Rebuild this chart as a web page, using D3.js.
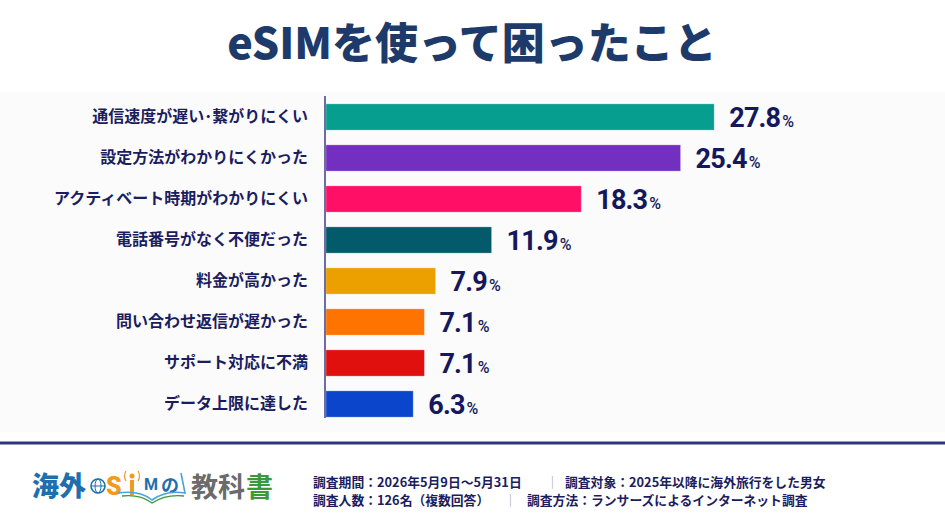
<!DOCTYPE html>
<html>
<head>
<meta charset="utf-8">
<script src="https://cdn.jsdelivr.net/npm/d3@7"></script>
<style>
  body { margin: 0; background: #fff; }
  svg { display: block; }
  .lbl text { font-family: "Noto Sans CJK JP", sans-serif; font-weight: 700; font-size: 16px; fill: #1b1d5e; }
  .val { font-family: Roboto, "Noto Sans", sans-serif; font-weight: 700; fill: #15185a; }
  .foot { font-family: "Noto Sans CJK JP", sans-serif; font-weight: 700; font-size: 12.8px; fill: #1b1d5e; }
</style>
</head>
<body>
<svg id="viz" width="945" height="532"></svg>
<script>
// data
var categories = ["通信速度が遅い･繋がりにくい", "設定方法がわかりにくかった", "アクティベート時期がわかりにくい",
  "電話番号がなく不便だった", "料金が高かった", "問い合わせ返信が遅かった", "サポート対応に不満", "データ上限に達した"];
var values = [27.8, 25.4, 18.3, 11.9, 7.9, 7.1, 7.1, 6.3];
var barColors = ["#069e8e", "#7330c0", "#ff0f65", "#035a6b", "#eba000", "#ff7300", "#e0100f", "#0a45cc"];
var title = "eSIMを使って困ったこと";
var footLines = [
  ["調査期間：2026年5月9日～5月31日", "調査対象：2025年以降に海外旅行をした男女"],
  ["調査人数：126名（複数回答）", "調査方法：ランサーズによるインターネット調査"]
];

var width = 945, height = 532;
var svg = d3.select("#viz");

// BACKGROUND BAND
svg.append("rect")
    .attr("x", 0).attr("y", 92)
    .attr("width", width).attr("height", 340)
    .style("fill", "#fbfbfc");

// TITLE
svg.append("text")
    .attr("x", 472).attr("y", 59)
    .attr("text-anchor", "middle")
    .style("font-family", "'Noto Sans CJK JP', sans-serif")
    .style("font-weight", 900)
    .style("font-size", "43px")
    .style("fill", "#1d3a6b")
    .text(title);

// SCALES
var x0 = 325;
var x = d3.scaleLinear()
    .domain([0, 10])
    .range([x0, x0 + 140]);
var y = d3.scaleBand()
    .domain(categories)
    .range([96.5, 424.5])
    .paddingInner(0.36)
    .paddingOuter(0.18);

// BARS
var data = categories.map(function(c, i) { return {cat: c, val: values[i], color: barColors[i]}; });
svg.append("g")
    .selectAll("rect")
    .data(data)
  .enter().append("rect")
    .attr("x", x0 + 1)
    .attr("y", d => y(d.cat))
    .attr("width", d => x(d.val) - x0 - 1)
    .attr("height", y.bandwidth())
    .style("fill", d => d.color)
    .style("stroke", "#ffffff")
    .style("stroke-opacity", 0.35)
    .style("stroke-width", 0.8);

// CATEGORY LABELS
var axis = svg.append("g")
    .attr("class", "lbl")
    .attr("transform", "translate(" + x0 + ",0)")
    .call(d3.axisLeft(y).tickSize(0).tickPadding(17));
axis.select(".domain").remove();

// AXIS LINE
svg.append("line")
    .attr("x1", x0).attr("x2", x0)
    .attr("y1", 96).attr("y2", 418)
    .style("stroke", "#4a4a86")
    .style("stroke-width", 1.6);

// VALUE LABELS
var vt = svg.append("g")
    .selectAll("text")
    .data(data)
  .enter().append("text")
    .attr("class", "val")
    .attr("x", d => x(d.val) + 15)
    .attr("y", d => y(d.cat) + y.bandwidth() / 2 + 10);
vt.append("tspan")
    .style("font-size", "27px")
    .style("letter-spacing", "-0.8px")
    .text(d => d3.format(".1f")(d.val));
vt.append("tspan")
    .attr("dx", 2)
    .style("font-size", "16px")
    .style("font-weight", 500)
    .text("%");

// DIVIDER
svg.append("line")
    .attr("x1", 0).attr("x2", width)
    .attr("y1", 443).attr("y2", 443)
    .style("stroke", "#2d3680")
    .style("stroke-width", 3);

// FOOTNOTE
var footX = [[313, 546, 565], [313, 504, 527]];
footLines.forEach(function(l, i) {
  var yy = 487 + i * 18;
  svg.append("text").attr("class", "foot").attr("x", footX[i][0]).attr("y", yy).text(l[0]);
  svg.append("text").attr("class", "foot").attr("x", footX[i][1]).attr("y", yy)
      .style("font-weight", 300).style("fill", "#8a8aa8").text("｜");
  svg.append("text").attr("class", "foot").attr("x", footX[i][2]).attr("y", yy).text(l[1]);
});

// LOGO (rough)
var logo = svg.append("g");
var logoFont = "'Noto Sans CJK JP', sans-serif";
logo.append("text")
    .attr("x", 32).attr("y", 496)
    .style("font-family", logoFont).style("font-weight", 900).style("font-size", "27px")
    .style("fill", "#1f6fae")
    .text("海外");
// globe
logo.append("circle").attr("cx", 98).attr("cy", 486).attr("r", 7)
    .style("fill", "none").style("stroke", "#1f6fae").style("stroke-width", 1.6);
logo.append("ellipse").attr("cx", 98).attr("cy", 486).attr("rx", 3).attr("ry", 7)
    .style("fill", "none").style("stroke", "#1f6fae").style("stroke-width", 1);
logo.append("line").attr("x1", 91).attr("x2", 105).attr("y1", 486).attr("y2", 486)
    .style("stroke", "#1f6fae").style("stroke-width", 1);
logo.append("text")
    .attr("x", 106).attr("y", 495)
    .style("font-family", "Roboto, sans-serif").style("font-weight", 900).style("font-size", "25px")
    .style("fill", "#f39a1e")
    .text("S");
// antenna I
logo.append("rect").attr("x", 130).attr("y", 480).attr("width", 4).attr("height", 15).style("fill", "#f39a1e");
logo.append("circle").attr("cx", 132).attr("cy", 476).attr("r", 2.5).style("fill", "#f39a1e");
logo.append("path").attr("d", "M126,471 Q123,476 126,481 M138,471 Q141,476 138,481")
    .style("fill", "none").style("stroke", "#f39a1e").style("stroke-width", 1.2);
logo.append("text")
    .attr("x", 144).attr("y", 490)
    .style("font-family", "Roboto, sans-serif").style("font-weight", 700).style("font-size", "16px")
    .style("fill", "#1f6fae")
    .text("M");
logo.append("text")
    .attr("x", 161).attr("y", 492)
    .style("font-family", logoFont).style("font-weight", 700).style("font-size", "18px")
    .style("fill", "#1f6fae")
    .text("の");
// book
logo.append("path")
    .attr("d", "M118,493 Q140,490 152,500 Q166,490 185,493 L181,473")
    .style("fill", "none").style("stroke", "#4aa3d8").style("stroke-width", 1.6);
logo.append("path")
    .attr("d", "M122,496 Q140,494 152,503 Q166,494 184,496")
    .style("fill", "none").style("stroke", "#3a9a3a").style("stroke-width", 1.3);
logo.append("text")
    .attr("x", 191).attr("y", 497)
    .style("font-family", logoFont).style("font-weight", 700).style("font-size", "27px")
    .style("fill", "#6b6b6b")
    .text("教科");
logo.append("text")
    .attr("x", 246).attr("y", 497)
    .style("font-family", logoFont).style("font-weight", 700).style("font-size", "27px")
    .style("fill", "#3a9a3a")
    .text("書");
</script>
</body>
</html>
